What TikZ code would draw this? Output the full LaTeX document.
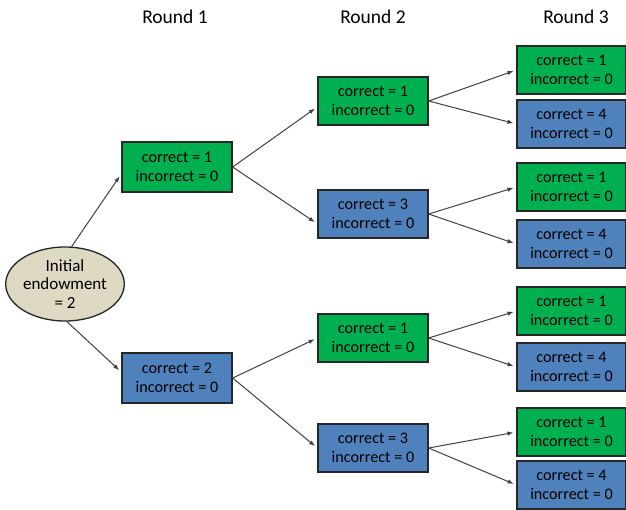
\documentclass[tikz,border=0pt]{standalone}
\usepackage{fontspec}
\setmainfont{Carlito}
\usepackage{tikz}
\usetikzlibrary{arrows.meta,shapes.geometric}
\definecolor{rgreen}{RGB}{0,176,80}
\definecolor{rblue}{RGB}{79,129,189}
\definecolor{rtan}{RGB}{221,217,195}

\begin{document}
\begin{tikzpicture}[x=1pt,y=-1pt,
  box/.style={draw=black!85,line width=1.3pt,minimum width=110pt,minimum height=48pt,
    inner sep=0pt,align=center,font=\fontsize{16.2}{19}\selectfont},
  gbox/.style={box,fill=rgreen}, bbox/.style={box,fill=rblue},
  arr/.style={-{Latex[length=6pt,width=4.5pt]},line width=1pt,black!75,shorten >=3pt},
  head/.style={font=\fontsize{19.5}{22}\selectfont}]

\useasboundingbox (0,0) rectangle (626,509);

% column headings
\node[head] (h1) at (175,17) {Round 1};
\node[head] (h2) at (373,17) {Round 2};
\node[head] (h3) at (576,17) {Round 3};

% starting point
\node[ellipse,draw=black!85,line width=1.3pt,fill=rtan,minimum width=116pt,minimum height=74pt,
  inner sep=0pt,align=center,font=\fontsize{17}{18.5}\selectfont] (init) at (65,284)
  {Initial\\endowment\\= 2};

% round 1
\node[gbox,minimum height=50pt] (r1a) at (177,167) {correct = 1\\incorrect = 0};
\node[bbox,minimum height=50pt] (r1b) at (177,378) {correct = 2\\incorrect = 0};

% round 2
\node[gbox] (r2a) at (373,101) {correct = 1\\incorrect = 0};
\node[bbox] (r2b) at (373,214) {correct = 3\\incorrect = 0};
\node[gbox] (r2c) at (373,338) {correct = 1\\incorrect = 0};
\node[bbox] (r2d) at (373,448) {correct = 3\\incorrect = 0};

% round 3
\node[gbox,minimum width=109pt] (r3a) at (571.5,70) {correct = 1\\incorrect = 0};
\node[bbox,minimum width=109pt] (r3b) at (571.5,124) {correct = 4\\incorrect = 0};
\node[gbox,minimum width=109pt] (r3c) at (571.5,187) {correct = 1\\incorrect = 0};
\node[bbox,minimum width=109pt] (r3d) at (571.5,244) {correct = 4\\incorrect = 0};
\node[gbox,minimum width=109pt] (r3e) at (571.5,311) {correct = 1\\incorrect = 0};
\node[bbox,minimum width=109pt] (r3f) at (571.5,367) {correct = 4\\incorrect = 0};
\node[gbox,minimum width=109pt] (r3g) at (571.5,432) {correct = 1\\incorrect = 0};
\node[bbox,minimum width=109pt] (r3h) at (571.5,485) {correct = 4\\incorrect = 0};

% branches
\draw[arr] (init.80) -- (r1a.187);
\draw[arr] (init.273) -- (r1b.174);
\draw[arr] (r1a.east) -- (r2a.186);
\draw[arr] (r1a.east) -- (r2b.190);
\draw[arr] (r1b.east) -- (r2c.west);
\draw[arr] (r1b.east) -- (r2d.west);
\draw[arr] (r2a.east) -- (r3a.west);
\draw[arr] (r2a.east) -- (r3b.west);
\draw[arr] (r2b.east) -- (r3c.west);
\draw[arr] (r2b.east) -- (r3d.west);
\draw[arr] (r2c.east) -- (r3e.west);
\draw[arr] (r2c.east) -- (r3f.west);
\draw[arr] (r2d.east) -- (r3g.west);
\draw[arr] (r2d.east) -- (r3h.west);

\end{tikzpicture}
\end{document}
